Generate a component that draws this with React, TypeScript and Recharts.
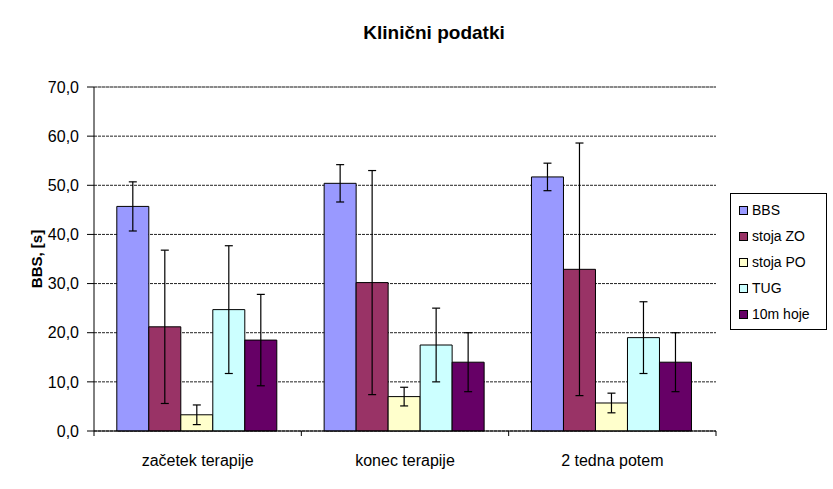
import React from 'react';
import {
  BarChart,
  Bar,
  XAxis,
  YAxis,
  CartesianGrid,
  ErrorBar,
  Legend,
  ReferenceLine,
} from 'recharts';

// categories and series
const categories = ['začetek terapije', 'konec terapije', '2 tedna potem'];
const bbs = [45.7, 50.4, 51.7];
const bbsErr = [5.0, 3.8, 2.8];
const stojaZO = [21.2, 30.2, 32.9];
const stojaZOErr = [15.6, 22.8, 25.7];
const stojaPO = [3.3, 7.0, 5.7];
const stojaPOErr = [2.0, 1.9, 2.0];
const tug = [24.7, 17.5, 19.0];
const tugErr = [13.0, 7.5, 7.3];
const hoje = [18.5, 14.0, 14.0];
const hojeErr = [9.3, 6.0, 6.0];
const yTicks = [0, 10, 20, 30, 40, 50, 60, 70];

const series = [
  { key: 'bbs', name: 'BBS', color: '#9999FF' },
  { key: 'stojaZO', name: 'stoja ZO', color: '#993366' },
  { key: 'stojaPO', name: 'stoja PO', color: '#FFFFCC' },
  { key: 'tug', name: 'TUG', color: '#CCFFFF' },
  { key: 'hoje', name: '10m hoje', color: '#660066' },
];

const data = categories.map((name, i) => ({
  name,
  bbs: bbs[i],
  bbsErr: bbsErr[i],
  stojaZO: stojaZO[i],
  stojaZOErr: stojaZOErr[i],
  stojaPO: stojaPO[i],
  stojaPOErr: stojaPOErr[i],
  tug: tug[i],
  tugErr: tugErr[i],
  hoje: hoje[i],
  hojeErr: hojeErr[i],
}));

const FONT = '"Liberation Sans", Arial, Helvetica, sans-serif';
const W = 833;
const H = 489;
const PLOT_LEFT = 94;
const PLOT_RIGHT = 716;
const PLOT_TOP = 87;
const PLOT_BOTTOM = 431;
const X_AXIS_H = 30;
const band = (PLOT_RIGHT - PLOT_LEFT) / categories.length;

// x ticks: label in the middle, tick marks on the category boundaries
const CategoryTick = (props: any) => {
  const { x, y, payload, index } = props;
  return (
    <g>
      <line x1={x - band / 2} x2={x - band / 2} y1={y} y2={y + 5} stroke="#000" />
      {index === categories.length - 1 && (
        <line x1={x + band / 2} x2={x + band / 2} y1={y} y2={y + 5} stroke="#000" />
      )}
      <text x={x} y={y + 35} textAnchor="middle" fontSize={16} fontFamily={FONT} fill="#000">
        {payload.value}
      </text>
    </g>
  );
};

const LegendBox = () => (
  <div
    style={{
      border: '1px solid #000',
      background: '#fff',
      padding: '3px 0 2px 0',
      fontFamily: FONT,
      fontSize: 14,
      color: '#000',
      boxSizing: 'border-box',
    }}
  >
    {series.map(s => (
      <div key={s.key} style={{ display: 'flex', alignItems: 'center', height: 26, paddingLeft: 8 }}>
        <span
          style={{
            display: 'inline-block',
            width: 7,
            height: 7,
            background: s.color,
            border: '1px solid #000',
            marginRight: 4,
          }}
        />
        <span>{s.name}</span>
      </div>
    ))}
  </div>
);

export default function App() {
  return (
    <div style={{ position: 'absolute', left: 0, top: 0, width: W, height: H, background: '#fff' }}>
      <div
        style={{
          position: 'absolute',
          left: 434,
          top: 33,
          transform: 'translate(-50%, -50%)',
          fontFamily: FONT,
          fontWeight: 'bold',
          fontSize: 19,
          whiteSpace: 'nowrap',
        }}
      >
        Klinični podatki
      </div>
      <div
        style={{
          position: 'absolute',
          left: 36,
          top: 259,
          transform: 'translate(-50%, -50%) rotate(-90deg)',
          fontFamily: FONT,
          fontWeight: 'bold',
          fontSize: 15,
          whiteSpace: 'nowrap',
        }}
      >
        BBS, [s]
      </div>
      <BarChart
        width={W}
        height={H}
        data={data}
        margin={{ top: PLOT_TOP, right: W - PLOT_RIGHT, bottom: H - PLOT_BOTTOM - X_AXIS_H, left: 0 }}
        barCategoryGap="11%"
        barGap={0}
      >
        <CartesianGrid vertical={false} stroke="#222" strokeDasharray="3 1" />
        <XAxis
          dataKey="name"
          height={X_AXIS_H}
          tickLine={false}
          tickSize={0}
          tickMargin={0}
          axisLine={{ stroke: '#000' }}
          tick={<CategoryTick />}
          interval={0}
        />
        <YAxis
          width={PLOT_LEFT}
          domain={[0, 70]}
          ticks={yTicks}
          interval={0}
          tickSize={7}
          tickMargin={8}
          axisLine={{ stroke: '#000' }}
          tickLine={{ stroke: '#000' }}
          tick={{ fill: '#000', fontSize: 16, fontFamily: FONT }}
          tickFormatter={(v: number) => v.toFixed(1).replace('.', ',')}
        />
        <YAxis
          yAxisId="frame"
          orientation="right"
          width={0}
          domain={[0, 70]}
          tick={false}
          tickLine={false}
          axisLine={{ stroke: '#808080' }}
        />
        <ReferenceLine y={70} stroke="#808080" />
        {series.map(s => (
          <Bar
            key={s.key}
            dataKey={s.key}
            name={s.name}
            fill={s.color}
            stroke="#000"
            strokeWidth={1}
            isAnimationActive={false}
          >
            <ErrorBar dataKey={`${s.key}Err`} width={4} stroke="#000" strokeWidth={1.2} />
          </Bar>
        ))}
        <Legend
          layout="horizontal"
          verticalAlign="middle"
          align="center"
          content={<LegendBox />}
          wrapperStyle={{ position: 'absolute', left: 730, top: 193, width: 97, height: 'auto' }}
        />
      </BarChart>
    </div>
  );
}
